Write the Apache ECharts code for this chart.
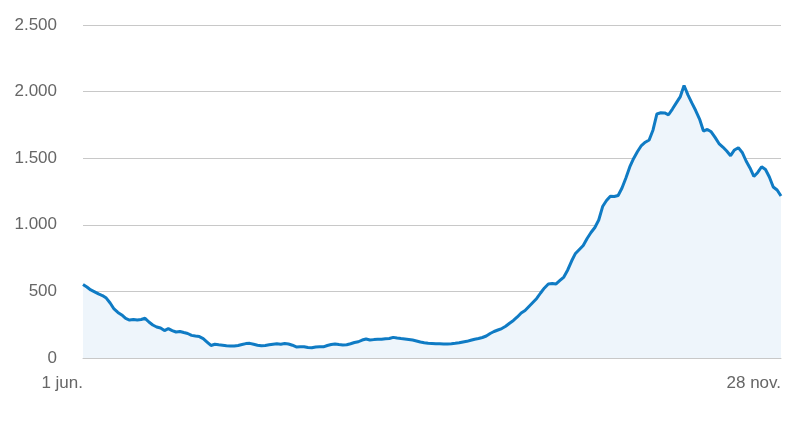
<!DOCTYPE html>
<html>
<head>
<meta charset="utf-8">
<script src="https://cdn.jsdelivr.net/npm/echarts@6/dist/echarts.min.js"></script>
<style>html,body{margin:0;padding:0;background:#fff}#c{width:800px;height:423px}</style>
</head>
<body>
<div id="c"></div>
<script>
const monthNames = ['jun.', 'jul.', 'aug.', 'sep.', 'okt.', 'nov.'];
const monthDays = [30, 31, 31, 30, 31, 28];
const categories = [];
monthDays.forEach(function (n, m) { for (let d = 1; d <= n; d++) categories.push(d + ' ' + monthNames[m]); });

const values = [
  552, 533, 511, 496, 481, 469, 450, 413, 368, 342,
  323, 297, 285, 289, 285, 289, 298, 270, 248, 233,
  225, 206, 221, 206, 195, 199, 191, 184, 170, 165,
  161, 146, 120, 94, 103, 99, 96, 92, 90, 90,
  94, 101, 108, 110, 103, 96, 92, 94, 99, 104,
  107, 104, 109, 105, 96, 83, 84, 85, 79, 77,
  83, 84, 84, 94, 101, 105, 101, 98, 99, 107,
  116, 122, 135, 143, 135, 138, 140, 140, 144, 146,
  155, 150, 146, 143, 139, 135, 128, 120, 115, 111,
  109, 107, 107, 105, 105, 107, 110, 114, 120, 125,
  133, 141, 146, 154, 165, 184, 199, 210, 221, 238,
  261, 282, 308, 338, 357, 387, 417, 447, 488, 526,
  556, 559, 556, 582, 608, 661, 728, 785, 815, 845,
  897, 942, 980, 1036, 1137, 1182, 1215, 1212, 1220, 1276,
  1351, 1434, 1498, 1550, 1595, 1620, 1637, 1712, 1832, 1841,
  1840, 1826, 1869, 1915, 1960, 2046, 1975, 1915, 1858, 1794,
  1704, 1716, 1698, 1656, 1610, 1584, 1554, 1519, 1562, 1579,
  1543, 1479, 1427, 1363, 1393, 1436, 1415, 1359, 1284, 1261,
  1216
];

const xTickLabels = ['1 jun.', '28 nov.'];
const yTicks = [0, 500, 1000, 1500, 2000, 2500];

const chart = echarts.init(document.getElementById('c'), null, { renderer: 'canvas' });
chart.setOption({
  animation: false,
  grid: { left: 83, right: 19, top: 25, bottom: 65, containLabel: false },
  xAxis: {
    type: 'category',
    data: categories,
    boundaryGap: false,
    axisLine: { show: true, lineStyle: { color: '#c8c8c8', width: 1 } },
    axisTick: { show: false },
    axisLabel: {
      interval: function (i) { return i === 0 || i === categories.length - 1; },
      formatter: function (v, i) { return i === 0 ? xTickLabels[0] : xTickLabels[1]; },
      align: 'right',
      color: '#666666',
      fontFamily: 'Liberation Sans',
      fontSize: 17,
      margin: 17
    },
    splitLine: { show: false }
  },
  yAxis: {
    type: 'value',
    min: yTicks[0],
    max: yTicks[yTicks.length - 1],
    interval: 500,
    axisLine: { show: false },
    axisTick: { show: false },
    axisLabel: {
      color: '#666666',
      fontFamily: 'Liberation Sans',
      fontSize: 17,
      margin: 26,
      padding: [5, 0, 0, 0],
      formatter: function (v) { return String(v).replace(/\B(?=(\d{3})+(?!\d))/g, '.'); }
    },
    splitLine: { lineStyle: { color: '#c8c8c8', width: 1 } }
  },
  series: [{
    type: 'line',
    data: values,
    symbol: 'none',
    smooth: false,
    lineStyle: { color: '#0f7bc4', width: 3 },
    areaStyle: { color: '#eef5fb', opacity: 1 },
    z: 3
  }]
});
</script>
</body>
</html>
